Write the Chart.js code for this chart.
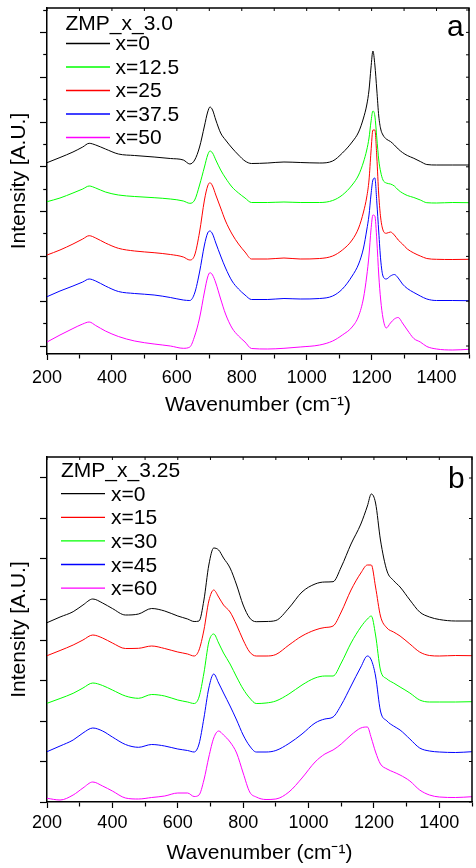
<!DOCTYPE html>
<html><head><meta charset="utf-8">
<script src="https://cdn.jsdelivr.net/npm/chart.js@4.4.1/dist/chart.umd.min.js"></script>
<style>html,body{margin:0;padding:0;background:#fff}canvas{display:block}</style>
</head><body>
<canvas id="ca" width="476" height="434"></canvas>
<canvas id="cb" width="476" height="434"></canvas>
<script>
// ---------- Panel a : ZMP_x_3.0 ----------
const WN_A = [200,240,280,310,330,350,380,420,470,530,580,620,640,655,670,685,695,702,710,720,735,750,770,790,810,830,880,930,980,1040,1080,1110,1140,1160,1175,1185,1192,1198,1204,1210,1216,1222,1228,1235,1245,1258,1270,1282,1295,1310,1330,1350,1370,1400,1450,1500];
const A_X0   = [183.3,188.5,194,199,202.7,201,197,192,190.5,189,187.5,186,182,186,199,220,234,239,236,226,213,206,198,191,185,182.5,183,184,183.5,183,185,193,204,214,228,241,256,278,295,281,256,230,217,211,207,204.5,201,197,193.5,190.5,187.7,184.5,181.5,181,181,181];
const A_X125 = [144.3,148,153,157,160,158,154,151,149.5,148.3,147,145,142.7,146,161,179,191,195,193,186,176,168,159,153,148,143.5,143.5,144,143.5,143.5,145.5,151,161,171,184,196,208,224,235,230,208,186,174,166,163,162,160,156,153,150.5,148.5,146,143.3,143,143.5,143.3];
const A_X25  = [91,96,102,107,110.3,108,103,97.7,95,93.3,91.5,89,86,91,114,146,160,163.3,160,151,138,125,112,102,94,87,87,88,87,87.5,90,96,106,118,134,149,166,194,216,216,189,151,128,116,112.7,114,111,106,102,97,93,90,87.5,86.7,86.5,86.7];
const A_X375 = [49.3,55,60,64,67,65,60,54.5,52.5,51,48.5,46,45.5,53,74,101,113,115,112,103,90,78,65,57,51,46.5,46.5,47.5,47,47.5,50,57,70,82,98,116,131,151,166,168,144,114,86,70,67,70,71.5,68,62,57.5,53.5,50,47,45.5,45.5,45.3];
const A_X50  = [4,11,17.5,22,24,20.5,15,9.5,5,2,0,-2.3,-1,10,28,54,69,73.3,71,63,47,32,18,10,4,-2.5,-3,-2.3,-1,1,5,11,19,30,48,70,91,116,131,130,106,71,46,28,18,23,27,28.5,23,16,7.5,4,-0.5,-3,-4,-3.3];
const LABELS_A = ['x=0','x=12.5','x=25','x=37.5','x=50'];
const COLORS_A = ['#000000','#00ff00','#ff0000','#0000ff','#ff00ff'];
const TITLE_A = 'ZMP_x_3.0';

// ---------- Panel b : ZMP_x_3.25 ----------
const WN_B = [200,240,280,310,340,370,400,440,480,520,560,600,630,650,665,680,695,710,725,740,760,780,800,820,840,870,900,940,980,1020,1050,1075,1100,1130,1160,1180,1192,1205,1220,1240,1260,1280,1310,1340,1370,1400,1450,1500];
const B_X0  = [179.3,185,190.3,197,203,199,193.5,187,188,193.5,191,186,183,180.5,181,202,237,254,252,244,234,217,197,184,180.3,180.5,181.5,194,210,218,220,220.3,235,258,278,296,308,299,262,231,221.5,215,202,190,185,182.5,181,181];
const B_X15 = [146.3,151.5,157,162,167,164,159,153.5,153.7,156,153.5,150,148,146,152,172,201,212,205,197,190,177,162,150,146,146,147.5,157,166,172,174.5,176,190,212,229,237,237,215,186,174,170,166,158,150,146.5,146,146.5,146.3];
const B_X30 = [98.7,103.5,108.7,114,119,116.5,112,106,103.7,107.5,106,102,100,98.5,105,129,160,168,159,149,138,125,113,104,98.5,99,101,108,117,124,126,126,139,159,175,183,186,167,132,123,119,115,109,102,100,100,100,100.3];
const B_X45 = [50.3,56,62,69,74,71,65,57.5,54.7,57.5,56,53,51.5,50,58,84,114,128,119,109,96,82,67,56,50,50,51.5,58.5,68,79,83,85,97,116,135,146,142,126,91,81,76,72,63,54,51,50,49.5,50.3];
const B_X60 = [3.7,2,7,14,20,16,11,4,3,4.5,6,9,9,5.5,7,22,45,64,71,67,60,49,29,10,5,2.5,3,10,24,40,48,52,58,67,74,75,64,50,38,33,30,27,21,12,7,5,4.5,5.3];
const LABELS_B = ['x=0','x=15','x=30','x=45','x=60'];
const COLORS_B = ['#000000','#ff0000','#00ff00','#0000ff','#ff00ff'];
const TITLE_B = 'ZMP_x_3.25';

const X_TICK_LABELS = [200,400,600,800,1000,1200,1400];
const X_TITLE = 'Wavenumber (cm\u207B\u00B9)';
const Y_TITLE = 'Intensity [A.U.]';

const FONT = "'Liberation Sans', Arial, Helvetica, sans-serif";

const decorPlugin = {
  id: 'decor',
  afterDraw(chart, args, o) {
    const ctx = chart.ctx, ca = chart.chartArea;
    const xs = chart.scales.x, ys = chart.scales.y;
    ctx.save();
    ctx.strokeStyle = '#000';
    ctx.lineWidth = 1.5;
    ctx.beginPath();
    ctx.moveTo(ca.left, ca.top); ctx.lineTo(ca.right, ca.top); ctx.lineTo(ca.right, ca.bottom);
    ctx.stroke();
    ctx.lineWidth = 1;
    xs.ticks.forEach(t => {
      const p = xs.getPixelForValue(t.value);
      ctx.beginPath(); ctx.moveTo(p, ca.top); ctx.lineTo(p, ca.top + 3); ctx.stroke();
    });
    ys.ticks.forEach(t => {
      const p = ys.getPixelForValue(t.value);
      ctx.beginPath(); ctx.moveTo(ca.right, p); ctx.lineTo(ca.right - 3, p); ctx.stroke();
    });
    ctx.font = o.fontSize + 'px ' + FONT;
    ctx.textBaseline = 'alphabetic';
    ctx.textAlign = 'left';
    ctx.fillStyle = '#000';
    ctx.fillText(o.title, o.titleX, o.titleY);
    chart.data.datasets.forEach((ds, i) => {
      const by = o.firstY + i * o.step;
      ctx.strokeStyle = ds.borderColor;
      ctx.lineWidth = 1.3;
      ctx.beginPath(); ctx.moveTo(o.lineX1, by - o.lineDy); ctx.lineTo(o.lineX2, by - o.lineDy); ctx.stroke();
      ctx.fillStyle = '#000';
      ctx.fillText(ds.label, o.textX, by);
    });
    ctx.font = o.letterSize + 'px ' + FONT;
    ctx.fillText(o.letter, o.letterX, o.letterY);
    ctx.restore();
  }
};

function makeChart(id, wn, series, labels, colors, cfg) {
  return new Chart(document.getElementById(id), {
    type: 'line',
    data: {
      datasets: series.map((vals, i) => ({
        label: labels[i],
        data: wn.map((w, j) => ({x: w, y: vals[j]})),
        borderColor: colors[i],
        backgroundColor: colors[i],
        borderWidth: 1,
        pointRadius: 0,
        fill: false,
        cubicInterpolationMode: 'monotone'
      }))
    },
    options: {
      responsive: false,
      animation: false,
      devicePixelRatio: 1,
      layout: {padding: {top: cfg.padTop, right: 1, left: 0, bottom: 0}},
      plugins: {legend: {display: false}, tooltip: {enabled: false}, decor: cfg.decor},
      scales: {
        x: {
          type: 'linear', min: 200, max: 1500,
          afterFit: s => { s.height = cfg.xHeight; },
          ticks: {
            stepSize: 100, autoSkip: false, maxRotation: 0, padding: cfg.tickPad,
            color: '#000', font: {family: FONT, size: 18},
            callback: v => X_TICK_LABELS.includes(v) ? String(v) : ''
          },
          grid: {
            drawOnChartArea: false, drawTicks: true, tickLength: 6, tickColor: '#000', tickWidth: 1.2,
            tickBorderDash: c => (c.tick && X_TICK_LABELS.includes(c.tick.value)) ? [] : [4, 20]
          },
          border: {display: true, color: '#000', width: 1.5},
          title: {display: true, text: X_TITLE, color: '#000', font: {family: FONT, size: 21},
                  padding: {top: 0, bottom: cfg.titlePad}}
        },
        y: {
          type: 'linear', min: cfg.yMin, max: cfg.yMax,
          afterFit: s => { s.width = 47; },
          ticks: {display: false, stepSize: cfg.yStep, includeBounds: false},
          grid: {
            drawOnChartArea: false, drawTicks: true, tickLength: 7, tickColor: '#000', tickWidth: 1.2,
            tickBorderDash: c => (cfg.minorY && c.index % 2 === 1) ? [3.3, 3.2] : [],
            tickBorderDashOffset: c => (cfg.minorY && c.index % 2 === 1) ? 3.3 : 0
          },
          border: {display: true, color: '#000', width: 1.5},
          title: {display: true, text: Y_TITLE, color: '#000', font: {family: FONT, size: 21},
                  padding: {top: 7, bottom: 0}}
        }
      }
    },
    plugins: [decorPlugin]
  });
}

makeChart('ca', WN_A, [A_X0, A_X125, A_X25, A_X375, A_X50], LABELS_A, COLORS_A, {
  padTop: 8, xHeight: 80, tickPad: 7, titlePad: 16,
  yMin: -8, yMax: 338, yStep: 22.4, minorY: true,
  decor: {fontSize: 21, title: TITLE_A, titleX: 65.5, titleY: 29.5, lineX1: 66, lineX2: 110,
          textX: 115.5, firstY: 50, step: 23.5, lineDy: 6.5,
          letter: 'a', letterSize: 30, letterX: 447, letterY: 36}
});

makeChart('cb', WN_B, [B_X0, B_X15, B_X30, B_X45, B_X60], LABELS_B, COLORS_B, {
  padTop: 23, xHeight: 66, tickPad: 4, titlePad: 2.5,
  yMin: 0, yMax: 345, yStep: 40.5, minorY: false,
  decor: {fontSize: 21, title: TITLE_B, titleX: 61, titleY: 42.7, lineX1: 61, lineX2: 105,
          textX: 111, firstY: 66.7, step: 23.6, lineDy: 7,
          letter: 'b', letterSize: 30, letterX: 448, letterY: 54.3}
});
</script>
</body></html>
